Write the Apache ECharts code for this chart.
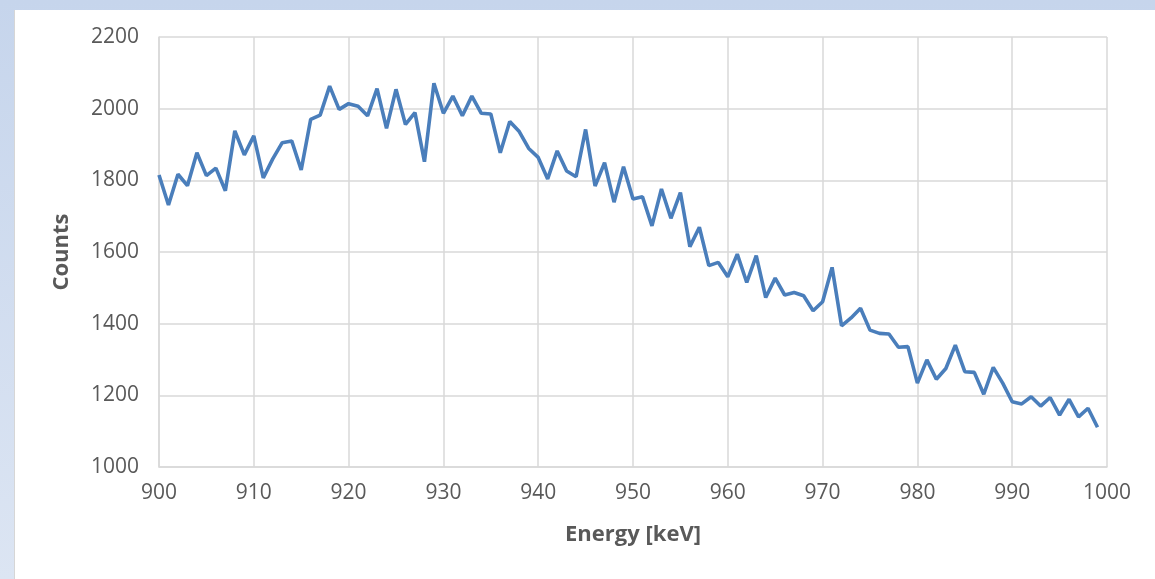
<!DOCTYPE html>
<html>
<head>
<meta charset="utf-8">
<script src="https://cdn.jsdelivr.net/npm/echarts@6/dist/echarts.min.js"></script>
<style>
  html, body { margin: 0; padding: 0; }
  body { width: 1155px; height: 579px; background: linear-gradient(#c6d5ec, #dce5f3); position: relative; overflow: hidden; }
  #spectrum { position: absolute; left: 14px; top: 10px; width: 1141px; height: 569px; background: #fff; border-left: 1px solid #d6d6d6; }
</style>
</head>
<body>
<div id="spectrum"></div>
<script>
// energy channels, keV
var energy = [];
for (var e = 900; e <= 999; e++) energy.push(e);
// counts, one per keV
var counts = [
  1815, 1731, 1817, 1785, 1877, 1813, 1834, 1771, 1938, 1871,  // 900-909
  1924, 1807, 1860, 1905, 1910, 1829, 1970, 1982, 2063, 1998,  // 910-919
  2014, 2007, 1980, 2056, 1945, 2054, 1956, 1989, 1852, 2071,  // 920-929
  1987, 2035, 1980, 2035, 1987, 1985, 1877, 1964, 1936, 1889,  // 930-939
  1864, 1804, 1882, 1826, 1810, 1942, 1784, 1849, 1739, 1838,  // 940-949
  1748, 1754, 1673, 1776, 1694, 1766, 1615, 1669, 1562, 1571,  // 950-959
  1531, 1594, 1515, 1590, 1473, 1527, 1480, 1487, 1478, 1436,  // 960-969
  1461, 1557, 1394, 1416, 1443, 1382, 1373, 1371, 1334, 1336,  // 970-979
  1234, 1299, 1245, 1275, 1340, 1266, 1264, 1203, 1278, 1234,  // 980-989
  1182, 1176, 1196, 1170, 1194, 1145, 1189, 1140, 1164, 1111   // 990-999
];
var xTicks = { min: 900, max: 1000, step: 10 };
var yTicks = { min: 1000, max: 2200, step: 200 };

var points = energy.map(function (v, i) { return [v, counts[i]]; });

var plain = function (v) { return String(v); };   // no thousands separator
var labelFont = { color: '#595959', fontSize: 21, fontFamily: 'Open Sans', formatter: plain };
var nameFont = { color: '#595959', fontSize: 22, fontWeight: 'bold', fontFamily: 'Open Sans' };
var myChart = echarts.init(document.getElementById('spectrum'));
var option = {
  animation: false,
  grid: { left: 144, top: 27, right: 49, bottom: 112 },
  xAxis: {
    type: 'value',
    min: xTicks.min, max: xTicks.max, interval: xTicks.step,
    name: 'Energy [keV]',
    nameLocation: 'middle',
    nameGap: 57,
    nameTextStyle: nameFont,
    axisLine: { lineStyle: { color: '#d9d9d9', width: 1.5 } },
    axisTick: { show: false },
    axisLabel: Object.assign({ margin: 16 }, labelFont),
    splitLine: { lineStyle: { color: '#d9d9d9', width: 1.5 } }
  },
  yAxis: {
    type: 'value',
    min: yTicks.min, max: yTicks.max, interval: yTicks.step,
    name: 'Counts',
    nameLocation: 'middle',
    nameGap: 86,
    nameTextStyle: nameFont,
    axisLine: { show: true, lineStyle: { color: '#d9d9d9', width: 1.5 } },
    axisTick: { show: false },
    axisLabel: Object.assign({ margin: 20 }, labelFont),
    splitLine: { lineStyle: { color: '#d9d9d9', width: 1.5 } }
  },
  series: [{
    type: 'line',
    data: points,
    showSymbol: false,
    lineStyle: { color: '#4a7ebb', width: 3.6 },
    z: 3
  }]
};
myChart.setOption(option);
</script>
</body>
</html>
